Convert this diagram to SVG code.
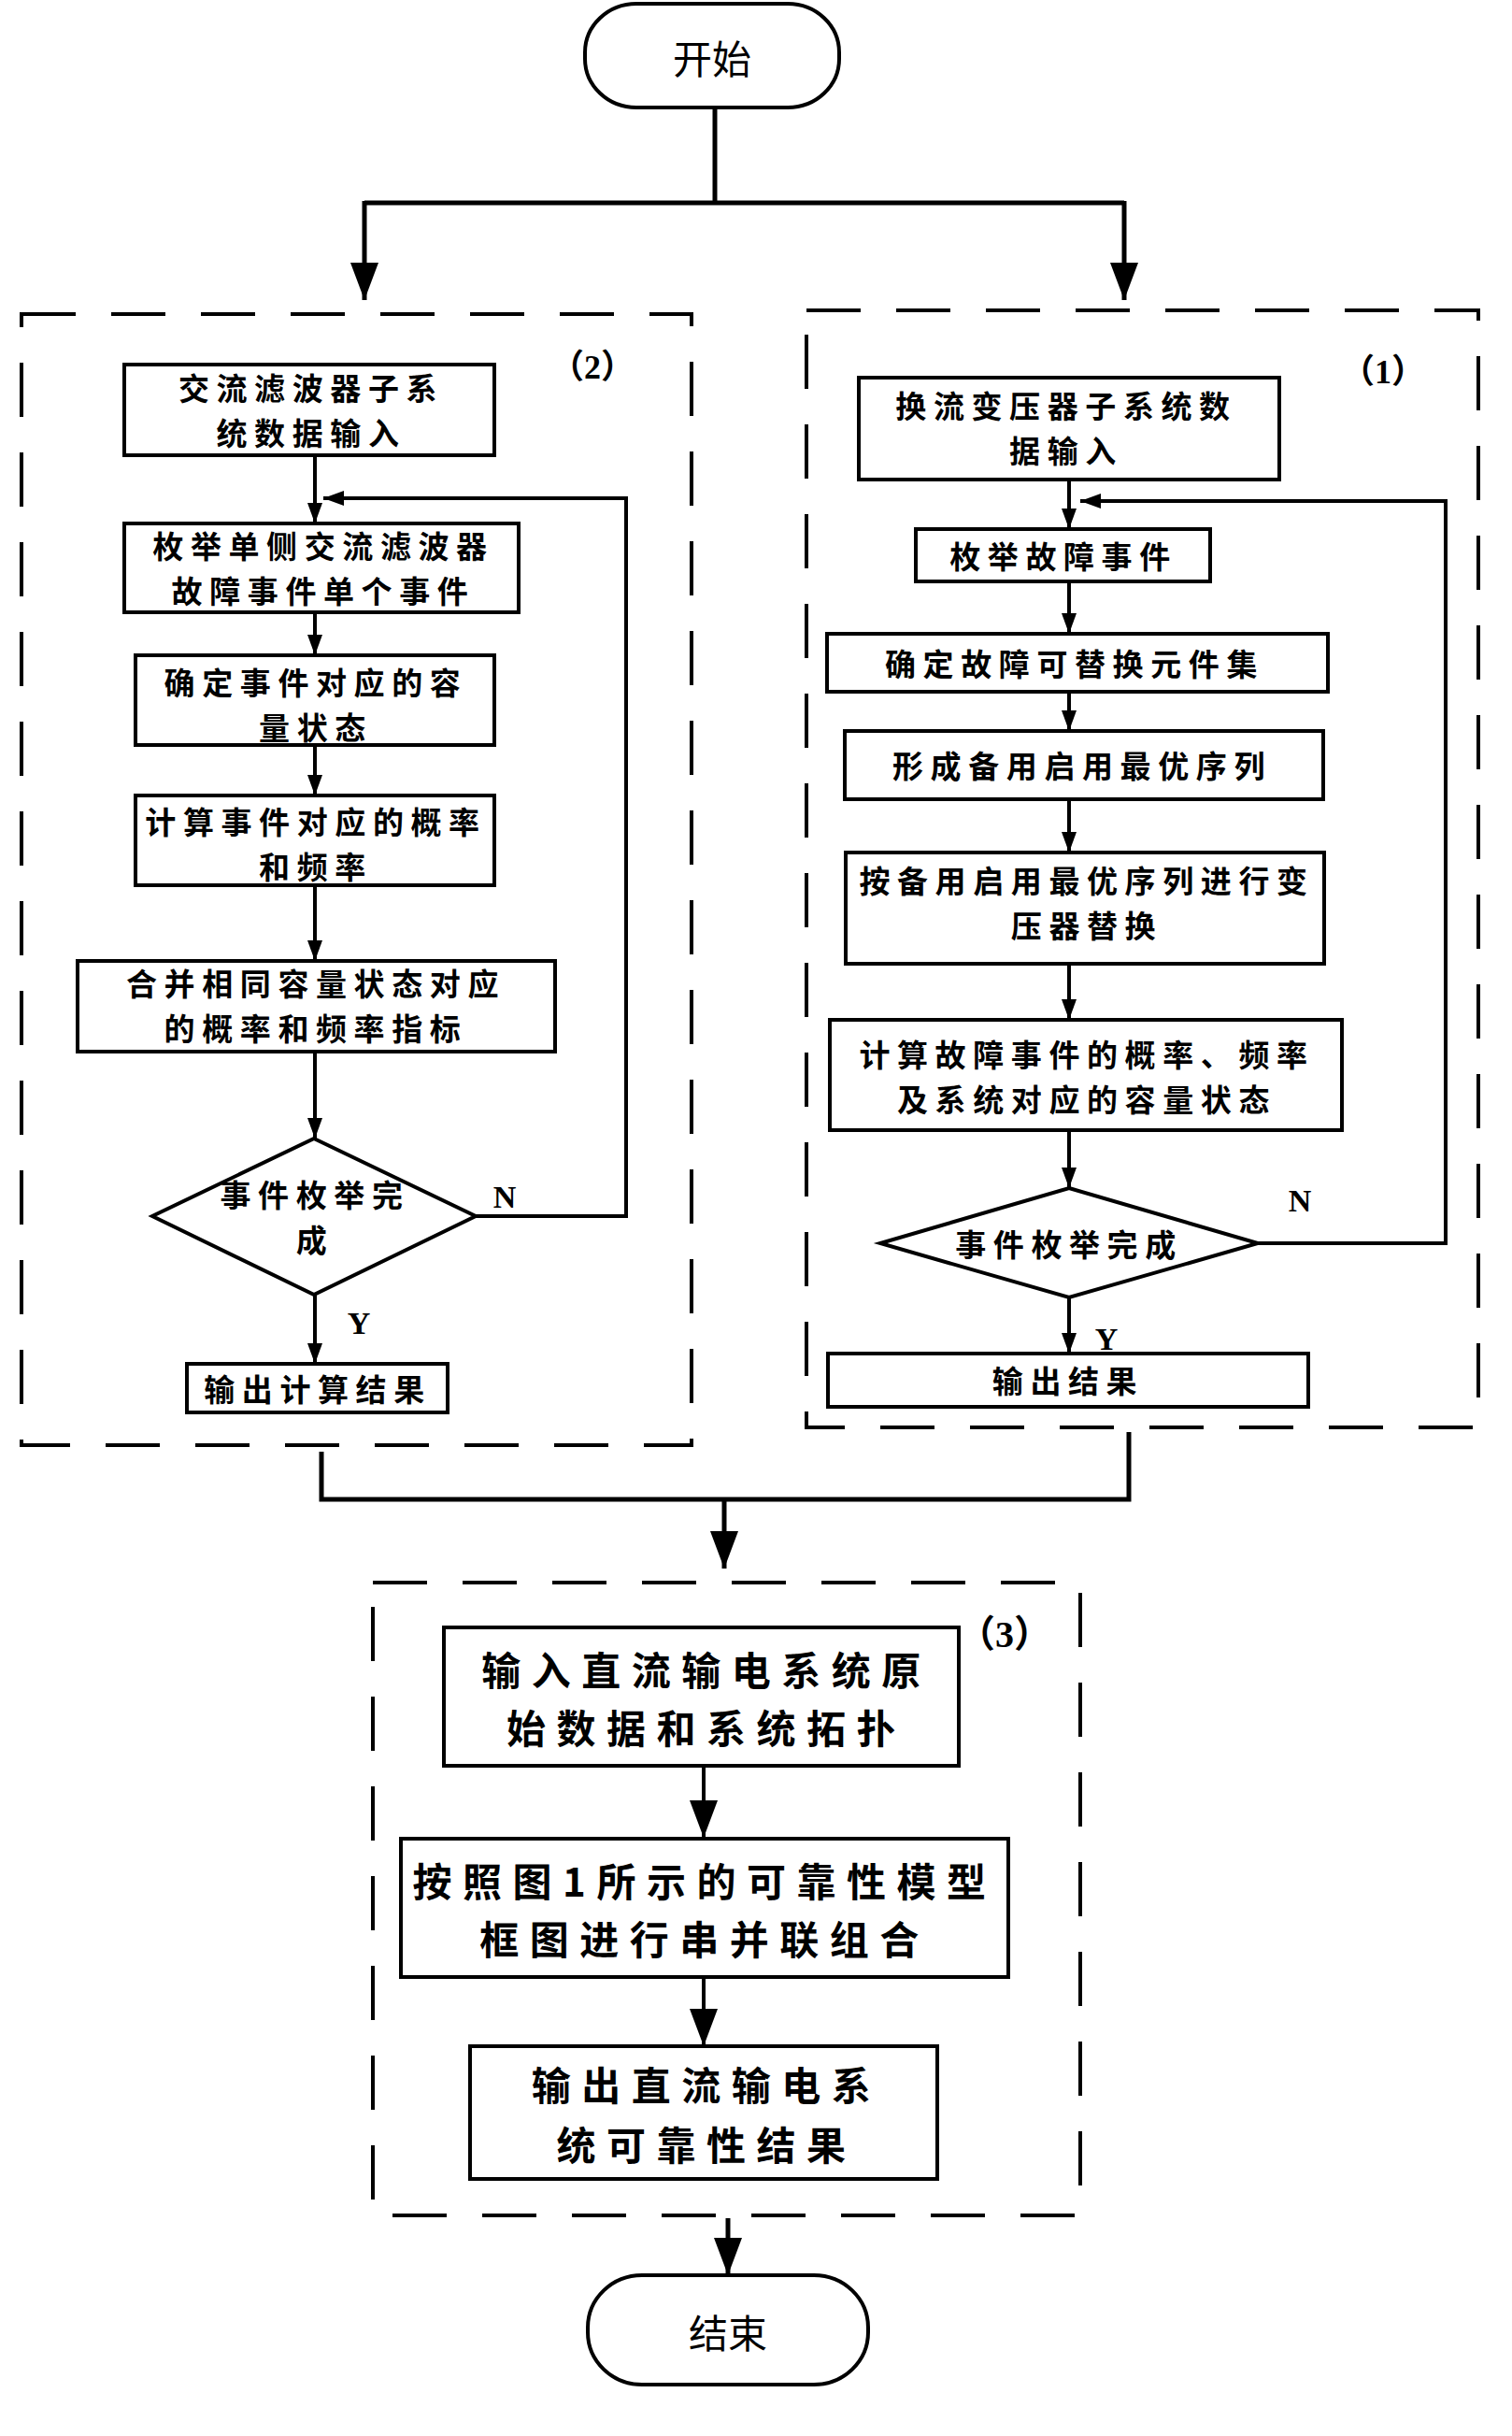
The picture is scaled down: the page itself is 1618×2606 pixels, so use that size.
<svg xmlns="http://www.w3.org/2000/svg" width="1618" height="2606" viewBox="0 0 1618 2606">
<style>
.bg{fill:#fff}
.box{fill:#fff;stroke:#000;stroke-width:4}
.term{fill:#fff;stroke:#000;stroke-width:4}
.dash{fill:none;stroke:#000;stroke-width:4;stroke-dasharray:58 38}
.ln{fill:none;stroke:#000;stroke-width:4}
.lnb{fill:none;stroke:#000;stroke-width:5}
.t{font-family:"Noto Sans CJK SC","Noto Sans CJK TC",sans-serif;font-weight:700;font-size:33px;letter-spacing:7.6px;text-anchor:middle;dominant-baseline:central;fill:#000}
.tb{font-family:"Noto Sans CJK SC","Noto Sans CJK TC",sans-serif;font-weight:700;font-size:42px;letter-spacing:11.5px;text-anchor:middle;dominant-baseline:central;fill:#000}
.tt{font-family:"Noto Sans CJK SC",sans-serif;font-weight:400;font-size:42px;text-anchor:middle;dominant-baseline:central;fill:#000}
.lab{font-family:"Liberation Serif","Noto Sans CJK SC",serif;font-weight:700;font-size:34px;text-anchor:middle;dominant-baseline:central;fill:#000}
.par{font-family:"Liberation Serif","Noto Sans CJK SC",serif;font-weight:700;font-size:36px;text-anchor:middle;dominant-baseline:central;fill:#000}
</style>
<defs>
<marker id="a" markerUnits="userSpaceOnUse" markerWidth="24" markerHeight="16" refX="22" refY="8" orient="auto"><path d="M0,0 L22,8 L0,16 z" fill="#000"/></marker>
<marker id="A" markerUnits="userSpaceOnUse" markerWidth="40" markerHeight="30" refX="40" refY="15" orient="auto"><path d="M0,0 L40,15 L0,30 z" fill="#000"/></marker>
</defs>
<rect class="bg" x="0" y="0" width="1618" height="2606"/>

<g id="groups">
<rect id="group2" class="dash" x="23" y="336" width="717" height="1210"/>
<rect id="group1" class="dash" x="863" y="332" width="719" height="1195"/>
<rect id="group3" class="dash" x="399" y="1693" width="757" height="677"/>
<text class="par" x="634" y="393">（2）</text>
<text class="par" x="1480" y="398">（1）</text>
<text class="par" x="1075" y="1748" style="font-size:40px">（3）</text>
</g>

<g id="connectors">
<path class="lnb" d="M765,116 V217"/>
<path class="lnb" d="M390,217 H1203"/>
<path class="lnb" d="M390,215 V321" marker-end="url(#A)"/>
<path class="lnb" d="M1203,215 V321" marker-end="url(#A)"/>
<path class="ln" d="M337,487 V560" marker-end="url(#a)"/>
<path class="ln" d="M337,655 V701" marker-end="url(#a)"/>
<path class="ln" d="M337,797 V851" marker-end="url(#a)"/>
<path class="ln" d="M337,947 V1028" marker-end="url(#a)"/>
<path class="ln" d="M337,1125 V1218" marker-end="url(#a)"/>
<path class="ln" d="M337,1385 V1459" marker-end="url(#a)"/>
<path class="ln" d="M509,1301 H670 V533 H346" marker-end="url(#a)"/>
<path class="ln" d="M1144,513 V566" marker-end="url(#a)"/>
<path class="ln" d="M1144,622 V678" marker-end="url(#a)"/>
<path class="ln" d="M1144,740 V782" marker-end="url(#a)"/>
<path class="ln" d="M1144,855 V912" marker-end="url(#a)"/>
<path class="ln" d="M1144,1031 V1091" marker-end="url(#a)"/>
<path class="ln" d="M1144,1209 V1271" marker-end="url(#a)"/>
<path class="ln" d="M1144,1388 V1448" marker-end="url(#a)"/>
<path class="ln" d="M1346,1330 H1547 V536 H1156" marker-end="url(#a)"/>
<path class="lnb" d="M344,1553 V1604 H1208 V1532"/>
<path class="lnb" d="M775,1602 V1678" marker-end="url(#A)"/>
<path class="ln" d="M753,1890 V1966" marker-end="url(#A)"/>
<path class="ln" d="M753,2115 V2189" marker-end="url(#A)"/>
<path class="lnb" d="M779,2373 V2434" marker-end="url(#A)"/>
<text class="lab" x="540" y="1280">N</text>
<text class="lab" x="384" y="1415">Y</text>
<text class="lab" x="1391" y="1284">N</text>
<text class="lab" x="1184" y="1432">Y</text>
</g>

<g id="start">
<rect class="term" x="626" y="4" width="272" height="111" rx="55" ry="52"/>
<text class="tt" x="762" y="60">开始</text>
</g>

<g id="L1"><rect class="box" x="133" y="390" width="396" height="97"/>
<text class="t" x="333" y="414">交流滤波器子系</text><text class="t" x="333" y="462">统数据输入</text></g>
<g id="L2"><rect class="box" x="133" y="560" width="422" height="95"/>
<text class="t" x="346" y="583">枚举单侧交流滤波器</text><text class="t" x="346" y="631">故障事件单个事件</text></g>
<g id="L3"><rect class="box" x="145" y="701" width="384" height="96"/>
<text class="t" x="338" y="729">确定事件对应的容</text><text class="t" x="338" y="777">量状态</text></g>
<g id="L4"><rect class="box" x="145" y="851" width="384" height="96"/>
<text class="t" x="338" y="878">计算事件对应的概率</text><text class="t" x="338" y="926">和频率</text></g>
<g id="L5"><rect class="box" x="83" y="1028" width="511" height="97"/>
<text class="t" x="338" y="1051">合并相同容量状态对应</text><text class="t" x="338" y="1099">的概率和频率指标</text></g>
<g id="L6"><path class="box" d="M336,1218 L509,1301 L336,1385 L163,1301 Z"/>
<text class="t" x="337" y="1277">事件枚举完</text><text class="t" x="337" y="1325">成</text></g>
<g id="L7"><rect class="box" x="200" y="1459" width="279" height="52"/>
<text class="t" x="340" y="1485">输出计算结果</text></g>

<g id="R1"><rect class="box" x="919" y="404" width="450" height="109"/>
<text class="t" x="1141" y="433">换流变压器子系统数</text><text class="t" x="1141" y="481">据输入</text></g>
<g id="R2"><rect class="box" x="980" y="566" width="315" height="56"/>
<text class="t" x="1138" y="594">枚举故障事件</text></g>
<g id="R3"><rect class="box" x="885" y="678" width="536" height="62"/>
<text class="t" x="1150" y="709">确定故障可替换元件集</text></g>
<g id="R4"><rect class="box" x="904" y="782" width="512" height="73"/>
<text class="t" x="1158" y="818">形成备用启用最优序列</text></g>
<g id="R5"><rect class="box" x="905" y="912" width="512" height="119"/>
<text class="t" x="1163" y="941">按备用启用最优序列进行变</text><text class="t" x="1163" y="989">压器替换</text></g>
<g id="R6"><rect class="box" x="888" y="1091" width="548" height="118"/>
<text class="t" x="1163" y="1127">计算故障事件的概率、频率</text><text class="t" x="1163" y="1175">及系统对应的容量状态</text></g>
<g id="R7"><path class="box" d="M1144,1271 L1346,1330 L1144,1388 L942,1330 Z"/>
<text class="t" x="1144" y="1330">事件枚举完成</text></g>
<g id="R8"><rect class="box" x="886" y="1448" width="514" height="57"/>
<text class="t" x="1143" y="1476">输出结果</text></g>

<g id="B1"><rect class="box" x="475" y="1741" width="551" height="148"/>
<text class="tb" x="756" y="1784">输入直流输电系统原</text><text class="tb" x="756" y="1846">始数据和系统拓扑</text></g>
<g id="B2"><rect class="box" x="429" y="1967" width="650" height="148"/>
<text class="tb" x="754" y="2010">按照图1所示的可靠性模型</text><text class="tb" x="754" y="2072">框图进行串并联组合</text></g>
<g id="B3"><rect class="box" x="503" y="2189" width="500" height="142"/>
<text class="tb" x="756" y="2228">输出直流输电系</text><text class="tb" x="756" y="2292">统可靠性结果</text></g>

<g id="end">
<rect class="term" x="629" y="2434" width="300" height="117" rx="58" ry="56"/>
<text class="tt" x="779" y="2493">结束</text>
</g>
</svg>
